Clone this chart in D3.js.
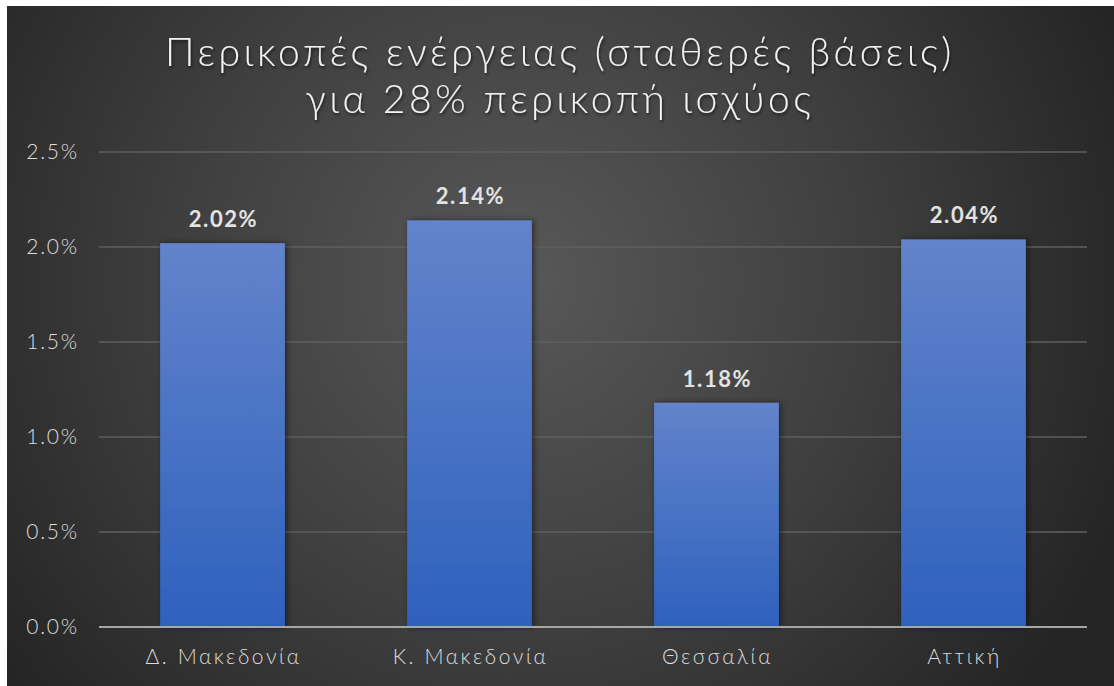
<!DOCTYPE html>
<html>
<head>
<meta charset="utf-8">
<script src="https://cdn.jsdelivr.net/npm/d3@7"></script>
<style>
  body { margin: 0; background: #ffffff; }
  svg { display: block; }
</style>
</head>
<body>
<div id="chart"></div>
<script>
// Chart data
var regions = ["Δ. Μακεδονία", "Κ. Μακεδονία", "Θεσσαλία", "Αττική"];
var energyCuts = [0.0202, 0.0214, 0.0118, 0.0204];
var yTicks = [0, 0.005, 0.01, 0.015, 0.02, 0.025];
var titleLines = ["Περικοπές ενέργειας (σταθερές βάσεις)", "για 28% περικοπή ισχύος"];

var width = 1114, height = 686;
var margin = {top: 152, right: 27, bottom: 59, left: 99};

var svg = d3.select('#chart').append('svg')
    .attr('width', width)
    .attr('height', height);

var defs = svg.append('defs');

// background radial gradient
var bg = defs.append('radialGradient')
    .attr('id', 'bgGrad')
    .attr('gradientUnits', 'userSpaceOnUse')
    .attr('cx', 520).attr('cy', 280).attr('r', 640);
bg.append('stop').attr('offset', '0%').attr('stop-color', '#585858');
bg.append('stop').attr('offset', '55%').attr('stop-color', '#3e3e3e');
bg.append('stop').attr('offset', '100%').attr('stop-color', '#252525');

var barGrad = defs.append('linearGradient')
    .attr('id', 'barGrad')
    .attr('x1', 0).attr('y1', 0).attr('x2', 0).attr('y2', 1);
barGrad.append('stop').attr('offset', '0%').attr('stop-color', '#6383cb');
barGrad.append('stop').attr('offset', '100%').attr('stop-color', '#2e61bd');

var shadow = defs.append('filter').attr('id', 'shadow')
    .attr('x', '-10%').attr('y', '-10%').attr('width', '130%').attr('height', '130%');
shadow.append('feDropShadow')
    .attr('dx', 1).attr('dy', 2).attr('stdDeviation', 1.5)
    .attr('flood-color', '#000').attr('flood-opacity', 0.6);

var barShadow = defs.append('filter').attr('id', 'barShadow')
    .attr('x', '-20%').attr('y', '-10%').attr('width', '140%').attr('height', '120%');
barShadow.append('feDropShadow')
    .attr('dx', 2).attr('dy', 0).attr('stdDeviation', 3)
    .attr('flood-color', '#000').attr('flood-opacity', 0.5);

svg.append('rect')
    .attr('x', 7).attr('y', 6)
    .attr('width', width - 7).attr('height', height - 6)
    .attr('fill', 'url(#bgGrad)');

// Title
svg.append('g').selectAll('text')
    .data(titleLines)
    .join('text')
    .attr('x', 560)
    .attr('y', (d, i) => 66 + i * 47)
    .attr('text-anchor', 'middle')
    .attr('font-family', 'Lato, sans-serif')
    .attr('font-weight', 300)
    .attr('font-size', 39)
    .attr('letter-spacing', 3.6)
    .attr('fill', '#f2f2f2')
    .attr('filter', 'url(#shadow)')
    .text(d => d);

var x = d3.scaleBand()
    .domain(regions)
    .range([margin.left, width - margin.right])
    .paddingInner(0.495)
    .paddingOuter(0.2475);

var y = d3.scaleLinear()
    .domain([0, 0.025])
    .range([height - margin.bottom, margin.top]);

// gridlines
svg.append('g')
    .selectAll('line')
    .data(yTicks.slice(1))
    .join('line')
    .attr('x1', margin.left)
    .attr('x2', width - margin.right)
    .attr('y1', d => y(d))
    .attr('y2', d => y(d))
    .attr('stroke', '#5f5f5f')
    .attr('stroke-width', 1.3);

// y axis labels
var yAxis = d3.axisLeft(y)
    .tickValues(yTicks)
    .tickFormat(d3.format('.1%'))
    .tickSize(0)
    .tickPadding(20);

svg.append('g')
    .attr('transform', `translate(${margin.left},0)`)
    .call(yAxis)
    .call(g => g.select('.domain').remove())
    .call(g => g.selectAll('text')
        .attr('font-family', 'Lato, sans-serif')
        .attr('font-weight', 300)
        .attr('font-size', 21)
        .attr('letter-spacing', 1.8)
        .attr('fill', '#dcdcdc'));

// bars
svg.append('g')
    .selectAll('rect')
    .data(energyCuts)
    .join('rect')
    .attr('x', (d, i) => x(regions[i]))
    .attr('y', d => y(d))
    .attr('width', x.bandwidth())
    .attr('height', d => y(0) - y(d))
    .attr('fill', 'url(#barGrad)')
    .attr('filter', 'url(#barShadow)');

// value labels
svg.append('g')
    .selectAll('text')
    .data(energyCuts)
    .join('text')
    .attr('x', (d, i) => x(regions[i]) + x.bandwidth() / 2 + 1)
    .attr('y', d => y(d) - 16)
    .attr('text-anchor', 'middle')
    .attr('font-family', 'Lato, sans-serif')
    .attr('font-weight', 700)
    .attr('font-size', 22)
    .attr('letter-spacing', 1.6)
    .attr('fill', '#e3e3e3')
    .text(d => d3.format('.2%')(d));

// x axis line
svg.append('line')
    .attr('x1', margin.left)
    .attr('x2', width - margin.right)
    .attr('y1', y(0))
    .attr('y2', y(0))
    .attr('stroke', '#a6a6a6')
    .attr('stroke-width', 2);

// x axis labels
var xAxis = d3.axisBottom(x).tickSize(0).tickPadding(22);
svg.append('g')
    .attr('transform', `translate(1,${y(0)})`)
    .call(xAxis)
    .call(g => g.select('.domain').remove())
    .call(g => g.selectAll('text')
        .attr('font-family', 'Lato, sans-serif')
        .attr('font-weight', 300)
        .attr('font-size', 21)
        .attr('letter-spacing', 2.6)
        .attr('fill', '#dcdcdc'));
</script>
</body>
</html>
